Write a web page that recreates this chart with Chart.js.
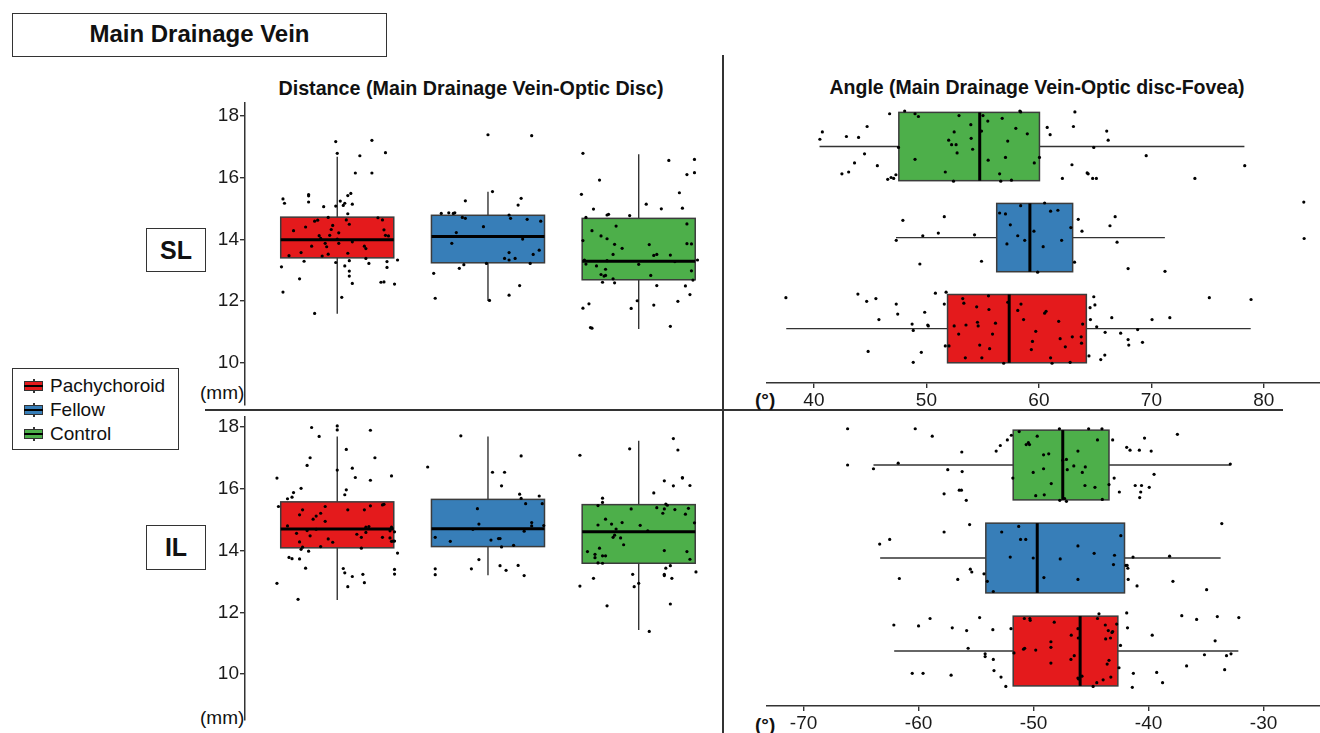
<!DOCTYPE html>
<html>
<head>
<meta charset="utf-8">
<script src="https://cdn.jsdelivr.net/npm/chart.js@4.4.0/dist/chart.umd.min.js"></script>
<style>
  body { margin: 0; width: 1320px; height: 733px; background: #fff; position: relative; overflow: hidden;
         font-family: "Liberation Sans", Arial, sans-serif; color: #111; }
  canvas { position: absolute; }
  .box { position: absolute; border: 1.5px solid #333; box-sizing: border-box; background: #fff;
         display: flex; align-items: center; justify-content: center; font-weight: bold; }
  .txt { position: absolute; white-space: nowrap; }
  .line { position: absolute; background: #333; }
  .leg { position: absolute; left: 12px; top: 368px; width: 167px; height: 82px; border: 1.5px solid #333; box-sizing: border-box; }
  .item { position: absolute; left: 10px; height: 24px; font-size: 19px; line-height: 24px; }
  .icon { position: absolute; left: 1px; top: 5px; width: 19px; height: 14px; }
  .icon .w { position: absolute; left: 9px; top: 0; width: 1.5px; height: 14px; background: #333; }
  .icon .b { position: absolute; left: 0; top: 2px; width: 19px; height: 10px; border: 1.3px solid #333; box-sizing: border-box; }
  .icon .m { position: absolute; left: 0; top: 6px; width: 19px; height: 2px; background: #000; }
</style>
</head>
<body>

<div class="box" style="left:12px;top:13px;width:375px;height:44px;font-size:24px;padding-bottom:3px;">Main Drainage Vein</div>
<div class="txt" style="left:471px;top:77px;transform:translateX(-50%);font-size:19.7px;font-weight:bold;">Distance (Main Drainage Vein-Optic Disc)</div>
<div class="txt" style="left:1037px;top:76px;transform:translateX(-50%);font-size:19.5px;font-weight:bold;">Angle (Main Drainage Vein-Optic disc-Fovea)</div>

<div class="line" style="left:722px;top:55px;width:1.5px;height:678px;"></div>
<div class="line" style="left:205px;top:409px;width:1078px;height:1.5px;"></div>

<div class="box" style="left:146px;top:228px;width:60px;height:44px;font-size:25px;">SL</div>
<div class="box" style="left:146px;top:525px;width:60px;height:45px;font-size:25px;">IL</div>

<div class="txt" style="left:200px;top:382px;font-size:19px;">(mm)</div>
<div class="txt" style="left:200px;top:707px;font-size:19px;">(mm)</div>
<div class="txt" style="left:755px;top:389px;font-size:19px;font-weight:bold;">(°)</div>
<div class="txt" style="left:755px;top:714px;font-size:19px;font-weight:bold;">(°)</div>

<div class="leg" id="legend"></div>

<canvas id="distSL" width="525" height="332" style="left:200px;top:88px;"></canvas>
<canvas id="distIL" width="525" height="331" style="left:200px;top:402px;"></canvas>
<canvas id="angleSL" width="561" height="328" style="left:763px;top:85px;"></canvas>
<canvas id="angleIL" width="561" height="331" style="left:763px;top:405px;"></canvas>

<script>
// groups and colours
const groups = ['Pachychoroid', 'Fellow', 'Control'];
const groupColors = ['#E41A1C', '#377EB8', '#4DAF4A'];

// tick labels
const distTicks = [10, 12, 14, 16, 18];
const angleSLTicks = [40, 50, 60, 70, 80];
const angleILTicks = [-70, -60, -50, -40, -30];

// box stats per group: [whisker low, q1, median, q3, whisker high]
const distSLStats = [[11.59, 13.40, 13.99, 14.72, 16.68], [12.00, 13.24, 14.09, 14.78, 15.54], [11.09, 12.69, 13.29, 14.68, 16.76]];
const distILStats = [[12.40, 14.09, 14.70, 15.58, 17.70], [13.20, 14.13, 14.71, 15.66, 17.70], [11.43, 13.59, 14.61, 15.49, 17.56]];
const angleSLStats = [[37.54, 51.88, 57.36, 64.22, 78.83], [47.30, 56.25, 59.20, 63.00, 71.20], [40.50, 47.55, 54.74, 60.05, 78.27]];
const angleILStats = [[-62.12, -51.77, -45.95, -42.67, -32.19], [-63.34, -54.15, -49.68, -42.09, -33.73], [-63.92, -51.77, -47.46, -43.44, -32.89]];

// single eyes: [value, jitter offset from the group position]
const distSLPachy = [[15.31,-0.36],[15.17,-0.35],[13.11,-0.37],[12.29,-0.36],[13.47,-0.32],[14.28,-0.29],[13.57,-0.24],[12.72,-0.25],[13.29,-0.22],[14.40,-0.21],[15.45,-0.19],[15.41,-0.19],[15.21,-0.19],[13.78,-0.17],[11.60,-0.15],[14.59,-0.15],[14.62,-0.13],[14.12,-0.12],[14.03,-0.11],[13.46,-0.10],[15.06,-0.09],[13.87,-0.08],[13.76,-0.07],[13.52,-0.06],[14.71,-0.06],[14.13,-0.05],[14.32,-0.04],[14.45,-0.03],[17.17,-0.01],[16.79,0],[15.08,-0.01],[13.25,-0.01],[14.01,0],[13.87,0.01],[14.21,0.01],[15.24,0.02],[12.12,0.03],[15.10,0.04],[15.17,0.05],[13.14,0.05],[14.63,0.06],[15.42,0.07],[14.83,0.07],[13.55,0.07],[13.31,0.08],[14.49,0.08],[12.97,0.08],[12.81,0.08],[15.49,0.09],[12.57,0.10],[15.14,0.10],[13.92,0.10],[16.15,0.12],[16.71,0.15],[13.78,0.18],[13.70,0.19],[13.38,0.19],[13.22,0.21],[17.21,0.23],[16.15,0.23],[14.70,0.27],[12.61,0.29],[14.63,0.30],[12.62,0.31],[14.31,0.31],[16.81,0.32],[14.13,0.32],[13.09,0.33],[13.28,0.33],[14.11,0.34],[12.55,0.38],[13.33,0.40]];
const distSLFellow = [[12.90,-0.36],[12.09,-0.35],[14.84,-0.31],[14.86,-0.26],[14.84,-0.23],[14.86,-0.22],[13.87,-0.24],[14.22,-0.21],[13.06,-0.19],[14.71,-0.17],[13.18,-0.16],[14.68,-0.15],[15.25,-0.15],[14.41,-0.03],[13.22,-0.01],[17.39,0],[12.02,0.01],[15.55,0.03],[13.38,0.11],[13.57,0.14],[13.33,0.14],[12.19,0.14],[14.79,0.14],[14.68,0.15],[13.38,0.18],[15.11,0.20],[12.50,0.21],[15.33,0.22],[14.01,0.23],[14.65,0.26],[13.22,0.28],[13.51,0.30],[13.65,0.34],[14.59,0.35],[17.36,0.29]];
const distSLControl = [[16.79,-0.37],[15.46,-0.38],[13.96,-0.37],[11.77,-0.37],[13.33,-0.36],[13.20,-0.35],[14.71,-0.35],[11.91,-0.33],[11.14,-0.32],[11.12,-0.31],[14.28,-0.31],[14.98,-0.30],[13.14,-0.28],[15.92,-0.26],[14.11,-0.25],[12.86,-0.25],[12.61,-0.24],[12.81,-0.23],[13.03,-0.22],[12.83,-0.22],[14.02,-0.21],[14.79,-0.21],[13.31,-0.21],[14.81,-0.20],[12.72,-0.17],[13.51,-0.17],[13.84,-0.16],[12.59,-0.16],[14.43,-0.15],[13.71,-0.11],[14.77,-0.06],[11.76,-0.05],[12.01,-0.01],[13.19,0],[15.14,0.05],[13.83,0.07],[12.83,0.08],[11.87,0.10],[13.48,0.10],[12.50,0.12],[13.51,0.12],[14.99,0.15],[16.56,0.20],[13.49,0.21],[11.18,0.21],[13.28,0.24],[11.99,0.26],[15.51,0.27],[15.01,0.29],[12.49,0.31],[16.10,0.32],[14.50,0.32],[13.86,0.32],[12.21,0.34],[13.85,0.35],[12.98,0.35],[12.68,0.36],[16.16,0.37],[16.59,0.37],[13.33,0.39]];

const distILPachy = [[16.35,-0.40],[15.43,-0.39],[12.94,-0.40],[15.68,-0.33],[13.78,-0.32],[13.74,-0.30],[15.73,-0.30],[15.88,-0.29],[14.80,-0.33],[14.56,-0.27],[12.42,-0.26],[13.73,-0.25],[14.28,-0.25],[15.16,-0.25],[16.02,-0.24],[15.32,-0.23],[14.04,-0.24],[14.11,-0.23],[13.43,-0.21],[14.65,-0.20],[13.98,-0.19],[16.76,-0.20],[17.01,-0.18],[14.48,-0.18],[17.99,-0.17],[15.02,-0.16],[15.12,-0.14],[14.69,-0.14],[17.70,-0.12],[15.21,-0.11],[14.13,-0.11],[14.95,-0.08],[15.43,-0.08],[14.38,-0.06],[14.27,-0.03],[16.61,0],[18.04,0],[17.91,0],[15.81,0.05],[15.97,0.06],[13.42,0.04],[13.28,0.05],[17.28,0.06],[15.32,0.07],[12.83,0.07],[13.16,0.10],[16.67,0.10],[16.37,0.12],[14.53,0.13],[14.08,0.16],[14.43,0.16],[13.23,0.17],[15.32,0.18],[12.96,0.18],[14.76,0.19],[14.59,0.19],[14.78,0.21],[15.45,0.22],[17.90,0.22],[16.28,0.22],[17.01,0.25],[14.43,0.30],[15.48,0.30],[15.50,0.31],[14.64,0.35],[14.41,0.35],[16.42,0.36],[14.30,0.36],[14.31,0.37],[14.31,0.38],[14.61,0.38],[13.39,0.38],[13.24,0.38],[13.92,0.40],[14.76,0.36]];
const distILFellow = [[16.71,-0.40],[13.41,-0.35],[13.22,-0.35],[14.43,-0.35],[14.30,-0.25],[17.72,-0.18],[13.41,-0.11],[14.69,-0.10],[15.36,-0.07],[14.86,-0.06],[13.71,-0.06],[14.34,0.02],[16.54,0.03],[14.39,0.08],[14.39,0.07],[13.51,0.08],[14.12,0.09],[16.10,0.09],[16.54,0.11],[13.36,0.12],[14.17,0.17],[13.52,0.20],[15.83,0.21],[15.69,0.22],[17.07,0.22],[13.19,0.24],[14.63,0.24],[15.52,0.25],[14.91,0.29],[14.80,0.29],[15.77,0.34],[15.52,0.36],[14.81,0.37]];
const distILControl = [[17.09,-0.39],[12.85,-0.39],[13.97,-0.34],[13.10,-0.30],[13.88,-0.29],[13.77,-0.29],[15.46,-0.27],[13.60,-0.27],[14.83,-0.27],[14.08,-0.26],[15.70,-0.24],[13.59,-0.24],[15.56,-0.24],[13.83,-0.24],[13.83,-0.22],[15.02,-0.22],[12.21,-0.21],[14.86,-0.18],[14.43,-0.17],[14.50,-0.16],[14.70,-0.15],[14.41,-0.12],[14.91,-0.11],[14.19,-0.10],[17.30,-0.06],[15.35,-0.05],[13.23,-0.04],[12.83,-0.03],[12.94,0],[14.82,0.01],[14.64,0.06],[11.38,0.07],[15.87,0.10],[15.39,0.12],[15.21,0.16],[15.35,0.17],[16.26,0.17],[13.19,0.17],[14.00,0.17],[13.23,0.17],[15.51,0.18],[13.43,0.18],[15.47,0.19],[13.51,0.21],[12.27,0.21],[13.10,0.22],[16.10,0.23],[17.63,0.23],[15.33,0.24],[17.26,0.26],[16.37,0.29],[16.35,0.29],[15.18,0.31],[13.97,0.32],[15.37,0.33],[13.72,0.34],[16.11,0.34],[14.90,0.37],[13.31,0.38]];

const angleSLPachy = [[37.51,0.34],[43.91,0.38],[44.69,0.30],[45.51,0.33],[45.78,0.10],[44.82,-0.25],[47.32,0.27],[47.45,0.16],[48.73,0.05],[48.83,-0.02],[49.55,-0.26],[48.83,-0.37],[49.85,0.18],[50.12,0.04],[50.17,0.03],[50.80,0.39],[51.59,0.27],[51.75,0.40],[51.68,-0.19],[52.01,-0.19],[52.47,0.03],[52.87,-0.06],[53.23,0.33],[53.33,0.28],[53.46,-0.32],[53.52,0.04],[54.47,0.24],[54.54,0.07],[54.60,0.03],[54.74,-0.18],[54.93,-0.32],[55.56,0.21],[55.62,-0.22],[55.52,0.36],[55.88,-0.06],[56.14,0.06],[56.87,-0.38],[57.23,0.29],[58.12,0.20],[58.41,0.27],[58.64,0.10],[59.33,-0.23],[59.43,-0.14],[59.72,-0.03],[60.51,0.17],[60.64,0.19],[61.04,-0.32],[61.17,-0.38],[61.76,0.08],[61.89,-0.11],[62.35,-0.20],[62.78,-0.37],[62.97,-0.09],[63.76,-0.09],[63.79,-0.16],[63.89,0.05],[64.45,-0.30],[64.55,0.23],[64.58,0.10],[64.88,0.35],[64.98,0.26],[65.14,0.02],[65.50,-0.34],[65.86,-0.29],[65.89,-0.04],[66.48,0.12],[67.27,-0.05],[67.93,-0.12],[67.99,-0.18],[68.78,-0.01],[69.21,-0.15],[70.06,0.10],[71.64,0.12],[75.15,0.34],[78.86,0.32]];
const angleSLFellow = [[47.91,0.19],[47.32,-0.03],[49.68,0.02],[49.42,-0.29],[51.06,0.05],[51.59,0.23],[54.28,0.03],[54.90,-0.26],[56.51,0.27],[57.03,0.26],[57.46,0.14],[58.12,0.02],[57.16,-0.07],[58.38,0.35],[58.74,-0.03],[59.56,0.07],[59.89,-0.38],[60.38,-0.10],[60.51,0.38],[61.04,0.29],[61.69,0.30],[62.02,-0.03],[62.84,0.11],[63.17,-0.27],[63.50,0.20],[63.83,0.07],[66.32,0.13],[66.78,0.23],[66.95,-0.05],[67.93,-0.34],[71.21,-0.37],[83.55,0.39],[83.58,-0.01]];
const angleSLControl = [[40.75,0.16],[40.53,0.08],[42.89,0.11],[43.97,0.10],[42.49,-0.30],[43.09,-0.28],[43.61,-0.18],[44.50,-0.08],[44.73,0.22],[45.64,-0.21],[46.56,-0.36],[46.73,0.36],[46.86,-0.34],[47.09,-0.35],[47.29,-0.31],[47.52,-0.01],[48.07,0.39],[48.99,0.36],[49.29,0.33],[48.99,-0.14],[51.68,-0.28],[51.98,0.07],[52.24,0.02],[52.47,0.16],[52.64,0.02],[52.73,-0.07],[52.41,-0.38],[52.90,0.34],[53.95,0.24],[53.98,0.09],[54.11,-0.03],[54.90,0.17],[55.03,0.34],[55.46,0.28],[55.49,-0.15],[56.51,-0.30],[56.61,-0.38],[56.74,0.31],[57.03,-0.12],[57.23,0.06],[57.56,-0.37],[57.95,0.20],[58.31,0.39],[58.38,0.38],[58.97,0.14],[59.59,-0.18],[60.05,-0.12],[60.74,0.21],[61.00,0.13],[62.09,-0.35],[62.94,-0.20],[63.07,0.22],[63.20,0.38],[64.29,-0.29],[64.38,-0.30],[64.88,-0.01],[64.78,-0.35],[65.11,-0.35],[66.03,0.17],[66.16,0.07],[69.54,-0.10],[73.87,-0.35],[78.30,-0.21]];

const angleILPachy = [[-62.15,0.28],[-60.55,-0.24],[-60.00,0.27],[-59.61,-0.24],[-59.00,0.35],[-57.17,-0.26],[-57.07,0.25],[-55.82,0.22],[-55.69,0.03],[-54.69,0.36],[-54.21,-0.03],[-54.21,-0.06],[-53.54,0.23],[-53.50,-0.09],[-53.44,-0.21],[-52.83,-0.28],[-52.41,-0.38],[-51.96,0.24],[-51.70,-0.02],[-50.87,0.02],[-50.77,0.03],[-50.80,0.35],[-50.32,0.35],[-50.29,0.33],[-49.81,0.01],[-48.49,0.10],[-48.49,0.04],[-48.49,-0.13],[-48.20,0.31],[-46.72,0.17],[-46.75,-0.09],[-46.46,-0.05],[-46.14,0.24],[-46.11,0.14],[-46.14,-0.29],[-46.08,-0.30],[-45.79,-0.27],[-44.82,-0.38],[-44.50,-0.34],[-44.44,0.35],[-44.31,0.40],[-43.95,-0.31],[-43.76,0.28],[-43.73,0.13],[-43.60,-0.14],[-43.50,0.22],[-43.44,-0.10],[-43.31,0.14],[-43.28,-0.28],[-43.18,0.20],[-43.12,0.21],[-42.77,0.29],[-42.57,-0.18],[-42.44,0.06],[-41.90,0.41],[-41.83,0.25],[-41.41,-0.39],[-41.32,-0.24],[-39.68,0.17],[-39.29,-0.23],[-38.78,-0.34],[-37.11,0.38],[-36.69,-0.16],[-35.82,0.34],[-35.14,-0.04],[-34.21,0.11],[-34.02,0.37],[-33.38,-0.20],[-33.22,-0.05],[-32.83,-0.03],[-32.15,0.36]];
const angleILFellow = [[-63.38,0.15],[-62.51,0.20],[-61.67,-0.22],[-57.78,0.28],[-56.59,-0.23],[-55.56,0.36],[-55.50,-0.12],[-55.37,-0.15],[-54.31,-0.17],[-54.02,-0.25],[-53.50,-0.36],[-52.77,0.28],[-52.03,0.01],[-51.29,0.34],[-51.13,0.20],[-50.68,0.20],[-50.03,0],[-49.10,-0.21],[-47.68,-0.01],[-46.14,0.13],[-46.14,-0.23],[-44.73,0.05],[-43.05,-0.07],[-42.96,0.03],[-42.41,0.24],[-41.96,-0.08],[-41.86,-0.08],[-41.80,-0.11],[-41.77,-0.23],[-41.35,0.01],[-41.00,-0.30],[-38.17,0.02],[-37.88,-0.25],[-34.95,-0.34],[-33.63,0.37]];
const angleILControl = [[-66.17,0.39],[-66.17,0],[-63.92,-0.04],[-61.77,0.02],[-60.29,0.39],[-58.81,0.31],[-57.78,-0.31],[-57.46,-0.05],[-56.46,-0.27],[-56.24,0.14],[-56.21,-0.07],[-56.27,-0.27],[-55.85,-0.38],[-53.25,0.15],[-52.89,0.21],[-52.28,0.27],[-51.93,0.32],[-51.80,-0.14],[-51.25,0.36],[-50.64,0.22],[-50.45,0.24],[-50.35,0.22],[-50.03,-0.08],[-49.81,-0.33],[-49.68,0.31],[-49.13,0.11],[-49.13,-0.04],[-49.07,-0.32],[-48.68,0.12],[-48.46,-0.20],[-47.75,0.39],[-47.72,-0.38],[-47.46,0.05],[-47.30,-0.36],[-47.14,-0.39],[-47.07,-0.05],[-47.14,0.06],[-46.50,-0.01],[-46.14,0.15],[-45.76,-0.08],[-45.50,-0.02],[-45.53,-0.22],[-45.21,0.39],[-44.66,-0.24],[-44.44,0.27],[-44.05,0.39],[-44.02,-0.37],[-43.44,-0.21],[-43.12,0.27],[-42.99,-0.14],[-42.54,-0.29],[-41.90,0.19],[-41.61,0.16],[-41.16,-0.22],[-40.80,0.16],[-40.68,-0.29],[-40.61,-0.22],[-40.77,-0.35],[-40.35,0.29],[-39.94,-0.24],[-39.77,0.15],[-39.52,-0.10],[-37.49,0.33],[-32.89,0.01]];

// legend (html, icon = small box glyph)
document.getElementById('legend').innerHTML = groups.map((g, i) =>
  '<div class="item" style="top:' + (5 + i * 24) + 'px"><div class="icon"><div class="w"></div>' +
  '<div class="b" style="background:' + groupColors[i] + '"></div><div class="m"></div></div>' +
  '<span style="margin-left:27px">' + g + '</span></div>').join('');

// draws whiskers, boxes and medians from the stats using the chart scales
const boxPlot = {
  id: 'boxPlot',
  beforeDatasetsDraw(chart, args, opts) {
    const ctx = chart.ctx;
    const hz = opts.horizontal;
    const vs = chart.scales[hz ? 'x' : 'y'];
    const cs = chart.scales[hz ? 'y' : 'x'];
    const P = (v, c) => hz ? [vs.getPixelForValue(v), cs.getPixelForValue(c)] : [cs.getPixelForValue(c), vs.getPixelForValue(v)];
    opts.stats.forEach((s, i) => {
      const c = i + 1;
      const [lo, q1, med, q3, hi] = s;
      ctx.save();
      ctx.strokeStyle = '#333';
      ctx.lineWidth = 1.4;
      ctx.beginPath();
      ctx.moveTo(...P(lo, c));
      ctx.lineTo(...P(hi, c));
      ctx.stroke();
      const a = P(q1, c - opts.half), b = P(q3, c + opts.half);
      const x = Math.min(a[0], b[0]), y = Math.min(a[1], b[1]);
      const w = Math.abs(b[0] - a[0]), h = Math.abs(b[1] - a[1]);
      ctx.fillStyle = groupColors[i];
      ctx.fillRect(x, y, w, h);
      ctx.strokeStyle = '#3c3c3c';
      ctx.lineWidth = 1.5;
      ctx.strokeRect(x, y, w, h);
      ctx.strokeStyle = '#000';
      ctx.lineWidth = 3;
      ctx.beginPath();
      ctx.moveTo(...P(med, c - opts.half));
      ctx.lineTo(...P(med, c + opts.half));
      ctx.stroke();
      ctx.restore();
    });
  }
};

const tickFont = { family: '"Liberation Sans", Arial, sans-serif', size: 19 };

function axisOpts(min, max, ticks, horizontal) {
  return {
    type: 'linear', min: min, max: max,
    afterBuildTicks: s => { s.ticks = ticks.map(v => ({ value: v })); },
    afterFit: s => { if (horizontal) s.height = 30; else s.width = 45; },
    ticks: { font: tickFont, color: '#1a1a1a', padding: 1 },
    grid: { display: true, drawOnChartArea: false, drawTicks: true, tickLength: 5, color: '#333', lineWidth: 1.4 },
    border: { display: true, color: '#333', width: 1.5 }
  };
}

function makeChart(id, stats, sets, horizontal, valueRange, catRange, ticks, pad) {
  const datasets = sets.map((pts, i) => ({
    data: pts.map(([v, j]) => horizontal ? { x: v, y: i + 1 + j } : { x: i + 1 + j, y: v }),
    pointRadius: 1.6, pointBackgroundColor: '#000', pointBorderWidth: 0, clip: false
  }));
  const valueAxis = axisOpts(valueRange[0], valueRange[1], ticks, horizontal);
  const catAxis = { type: 'linear', display: false, min: catRange[0], max: catRange[1] };
  return new Chart(document.getElementById(id), {
    type: 'scatter',
    data: { datasets: datasets },
    options: {
      responsive: false,
      animation: false,
      layout: { padding: pad },
      scales: horizontal ? { x: valueAxis, y: catAxis } : { x: catAxis, y: valueAxis },
      plugins: {
        legend: { display: false },
        tooltip: { enabled: false },
        boxPlot: { stats: stats, horizontal: horizontal, half: 0.375 }
      }
    },
    plugins: [boxPlot]
  });
}

makeChart('distSL', distSLStats, [distSLPachy, distSLFellow, distSLControl], false,
  [8.63, 18.42], [0.388, 3.546], distTicks, { top: 15, bottom: 15, left: 0, right: 0 });
makeChart('distIL', distILStats, [distILPachy, distILFellow, distILControl], false,
  [8.51, 18.33], [0.388, 3.546], distTicks, { top: 15, bottom: 13, left: 0, right: 0 });
makeChart('angleSL', angleSLStats, [angleSLPachy, angleSLFellow, angleSLControl], true,
  [35.83, 84.99], [0.403, 3.511], angleSLTicks, { top: 15, bottom: 0, left: 0, right: 0 });
makeChart('angleIL', angleILStats, [angleILPachy, angleILFellow, angleILControl], true,
  [-73.18, -25.09], [0.409, 3.484], angleILTicks, { top: 15, bottom: 0, left: 0, right: 0 });
</script>
</body>
</html>
